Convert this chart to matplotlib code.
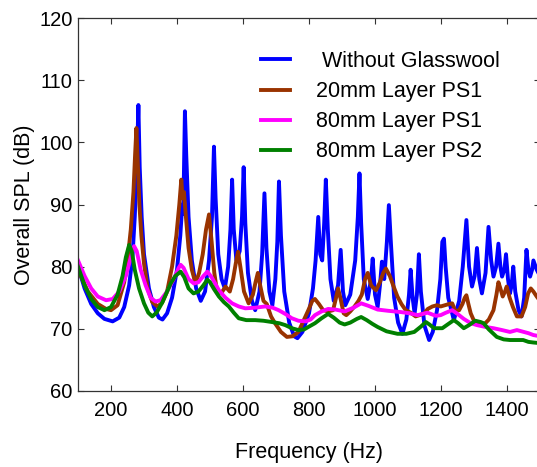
import numpy as np
import matplotlib.pyplot as plt

plt.rcParams['font.family'] = ['Liberation Sans', 'DejaVu Sans']

# (frecuencia Hz, SPL dB)
sin_lana = [(100, 80.0), (120, 76.5), (140, 74.0), (160, 72.5), (180, 71.6), (205, 71.2),
            (225, 71.8), (240, 73.5), (255, 77.0), (265, 81.5), (272, 88.0), (278, 96.0),
            (283, 106.0), (287, 96.0), (293, 88.0), (300, 82.0), (315, 76.5), (330, 73.5),
            (345, 71.8), (356, 71.5), (370, 72.5), (385, 75.0), (400, 79.5), (410, 85.0),
            (416, 90.0), (419, 88.5), (424, 105.0), (428, 98.0), (435, 88.0), (445, 81.0),
            (458, 76.5), (472, 74.5), (485, 76.0), (497, 81.0), (506, 88.0), (512, 99.3),
            (517, 91.0), (525, 82.0), (535, 78.0), (545, 76.5), (555, 80.0), (562, 86.0),
            (567, 94.0), (572, 86.0), (580, 81.0), (590, 82.5), (597, 88.0), (602, 96.0),
            (607, 87.0), (615, 79.0), (627, 74.5), (637, 73.0), (650, 76.0), (658, 82.0),
            (665, 91.8), (671, 83.0), (680, 76.0), (689, 73.8), (698, 78.0), (704, 84.0),
            (709, 93.7), (715, 85.0), (725, 76.0), (740, 71.0), (755, 68.8), (765, 68.5),
            (780, 69.5), (800, 72.5), (812, 76.5), (820, 81.0), (828, 88.0), (834, 82.0),
            (840, 81.0), (846, 87.0), (851, 94.0), (857, 86.0), (865, 78.0), (875, 74.5),
            (888, 77.0), (896, 82.7), (903, 76.0), (910, 73.8), (925, 75.5), (940, 81.0),
            (948, 88.0), (953, 95.0), (958, 87.0), (966, 78.0), (978, 74.8), (988, 78.0),
            (993, 81.3), (1000, 75.5), (1008, 73.5), (1015, 77.0), (1021, 80.8), (1028, 78.0),
            (1036, 84.0), (1042, 89.9), (1048, 84.0), (1058, 75.0), (1070, 71.0), (1083, 69.2),
            (1095, 71.5), (1103, 75.5), (1108, 79.5), (1114, 75.0), (1120, 72.5), (1127, 75.5),
            (1133, 82.0), (1139, 76.0), (1150, 70.5), (1164, 68.2), (1175, 69.5), (1188, 73.0),
            (1198, 78.0), (1204, 84.0), (1209, 84.5), (1214, 80.0), (1222, 75.0), (1239, 71.4),
            (1255, 74.5), (1266, 80.0), (1277, 87.5), (1285, 80.0), (1294, 76.8), (1302, 78.5),
            (1309, 83.0), (1316, 78.0), (1324, 75.7), (1335, 79.0), (1344, 86.4), (1352, 81.0),
            (1359, 78.4), (1367, 80.0), (1374, 83.7), (1380, 80.0), (1385, 78.4), (1392, 79.5),
            (1397, 82.0), (1403, 78.0), (1409, 75.7), (1414, 77.0), (1419, 80.0), (1425, 76.0),
            (1435, 73.0), (1444, 72.0), (1452, 75.0), (1459, 82.7), (1465, 79.5), (1470, 78.4),
            (1476, 79.5), (1480, 81.0), (1490, 79.5), (1500, 78.5)]

capa20_ps1 = [(100, 79.5), (130, 76.0), (160, 74.0), (185, 73.2), (200, 73.0), (220, 73.8),
              (240, 77.5), (250, 81.0), (260, 86.0), (268, 92.0), (273, 98.0), (277, 102.3),
              (281, 97.0), (286, 90.0), (292, 85.0), (300, 80.5), (311, 76.5), (325, 74.3),
              (341, 73.6), (355, 74.2), (370, 76.0), (385, 80.0), (398, 85.0), (407, 90.0),
              (413, 94.0), (417, 91.0), (421, 92.0), (427, 88.0), (435, 83.0), (445, 79.5),
              (456, 77.3), (467, 79.0), (478, 82.0), (488, 86.0), (497, 88.4), (505, 84.0),
              (513, 79.0), (522, 75.8), (535, 75.8), (547, 76.8), (560, 76.0), (570, 78.0),
              (578, 80.5), (585, 82.4), (592, 80.0), (603, 76.0), (617, 74.1), (630, 75.5),
              (638, 77.5), (645, 79.0), (652, 77.0), (662, 74.5), (672, 74.0), (685, 72.0),
              (697, 70.9), (715, 69.5), (733, 68.7), (750, 68.8), (768, 69.5), (785, 71.5),
              (798, 73.0), (810, 74.5), (818, 74.8), (830, 74.0), (843, 73.0), (858, 72.8),
              (873, 73.0), (882, 75.0), (888, 76.5), (895, 75.0), (905, 72.5), (913, 72.2),
              (925, 72.8), (938, 73.6), (950, 74.5), (960, 75.5), (970, 78.0), (978, 79.0),
              (988, 77.0), (1003, 76.2), (1015, 77.5), (1025, 79.0), (1033, 79.7), (1045, 78.5),
              (1055, 77.0), (1068, 75.2), (1080, 74.0), (1093, 73.0), (1108, 72.6), (1123, 72.0),
              (1135, 72.2), (1149, 72.5), (1160, 73.2), (1174, 73.6), (1188, 73.8), (1199, 73.6),
              (1212, 73.8), (1225, 74.0), (1234, 74.1), (1244, 72.8), (1255, 73.0), (1265, 74.0),
              (1272, 75.0), (1277, 75.4), (1283, 74.0), (1290, 72.5), (1299, 71.4), (1315, 70.8),
              (1329, 70.6), (1345, 71.5), (1359, 73.0), (1368, 75.5), (1374, 77.5), (1380, 76.5),
              (1387, 75.2), (1394, 76.0), (1399, 76.8), (1408, 75.0), (1418, 73.5), (1430, 72.0),
              (1444, 72.0), (1455, 73.5), (1464, 75.7), (1472, 76.5), (1480, 76.0), (1490, 75.2),
              (1500, 74.5)]

capa80_ps1 = [(100, 81.0), (120, 78.5), (140, 76.5), (160, 75.2), (185, 74.6), (205, 74.8),
              (225, 76.0), (245, 78.5), (260, 81.5), (270, 83.3), (278, 82.5), (290, 79.5),
              (305, 77.0), (320, 75.0), (335, 74.4), (350, 74.6), (370, 76.0), (390, 78.0),
              (405, 79.8), (411, 80.3), (420, 79.8), (435, 78.0), (451, 77.3), (465, 77.5),
              (480, 78.5), (492, 79.2), (505, 78.3), (527, 76.2), (547, 75.0), (567, 74.1),
              (587, 73.6), (607, 73.3), (637, 73.4), (667, 73.6), (690, 73.4), (708, 73.0),
              (728, 72.4), (748, 71.7), (768, 71.3), (790, 71.2), (805, 71.5), (818, 72.2),
              (838, 72.8), (858, 73.2), (880, 73.1), (908, 72.8), (935, 73.4), (958, 74.1),
              (980, 73.7), (1008, 73.1), (1040, 72.9), (1078, 72.7), (1105, 72.5), (1129, 72.2),
              (1159, 72.6), (1184, 72.1), (1199, 72.2), (1215, 72.6), (1234, 73.0), (1250, 72.4),
              (1269, 71.6), (1290, 70.9), (1309, 70.6), (1335, 70.3), (1359, 70.1), (1385, 69.8),
              (1409, 69.5), (1430, 69.8), (1444, 69.6), (1465, 69.3), (1480, 69.0), (1500, 68.8)]

capa80_ps2 = [(100, 80.0), (120, 77.0), (140, 74.8), (160, 73.5), (180, 73.0), (200, 73.5),
              (220, 75.5), (235, 78.5), (245, 81.5), (255, 83.5), (263, 82.5), (272, 79.5),
              (285, 76.5), (300, 74.1), (313, 72.6), (325, 72.0), (338, 72.6), (355, 74.2),
              (370, 76.0), (381, 77.3), (395, 78.5), (411, 79.2), (422, 78.3), (435, 76.5),
              (450, 75.7), (465, 76.0), (480, 77.0), (492, 77.9), (500, 77.5), (512, 76.4),
              (527, 75.2), (542, 74.3), (557, 73.6), (572, 72.6), (587, 71.7), (610, 71.4),
              (637, 71.4), (662, 71.3), (687, 71.1), (710, 70.9), (728, 70.6), (748, 70.1),
              (768, 69.8), (785, 69.9), (798, 70.3), (818, 70.9), (838, 71.7), (858, 72.4),
              (875, 71.8), (893, 71.0), (908, 70.7), (925, 71.0), (945, 71.6), (958, 71.9),
              (975, 71.4), (992, 70.8), (1008, 70.3), (1035, 69.6), (1068, 69.2), (1095, 69.2),
              (1119, 69.5), (1140, 70.4), (1154, 71.1), (1165, 70.7), (1179, 70.1), (1204, 70.1),
              (1220, 70.7), (1239, 71.4), (1252, 70.9), (1269, 70.1), (1285, 70.6), (1304, 71.3),
              (1320, 71.1), (1329, 70.9), (1345, 69.9), (1369, 68.7), (1390, 68.3), (1409, 68.2),
              (1430, 68.2), (1449, 68.2), (1465, 67.9), (1480, 67.8), (1500, 67.7)]

etiquetas = [' Without Glasswool', '20mm Layer PS1', '80mm Layer PS1', '80mm Layer PS2']
colores = ['#0000ff', '#993300', '#ff00ff', '#008000']
series = [sin_lana, capa20_ps1, capa80_ps1, capa80_ps2]

fig = plt.figure(figsize=(5.37, 4.67), dpi=100)
ax = fig.add_axes([78/537, 1-391/467, 462/537, 373/467])

for datos, col, lab in zip(series, colores, etiquetas):
    f, spl = np.array(datos).T
    ax.plot(f, spl, color=col, lw=2.8, label=lab)

ax.set_xlim(100, 1500)
ax.set_ylim(60, 120)
ax.set_xticks(np.arange(200, 1401, 200))
ax.set_yticks(np.arange(60, 121, 10))
ax.tick_params(direction='in', top=True, right=True, length=4, width=0.8,
               labelsize=14.5, color='#333333')
ax.tick_params(axis='x', pad=7)
ax.tick_params(axis='y', pad=4)
for s in ax.spines.values():
    s.set_color('#333333')
    s.set_linewidth(0.9)

ax.set_xlabel('Frequency (Hz)', fontsize=15.5, labelpad=16)
ax.set_ylabel('Overall SPL (dB)', fontsize=15.5, labelpad=3)

ax.legend(loc='upper left', bbox_to_anchor=(261/537, 1-51/467), bbox_transform=fig.transFigure,
          frameon=False, fontsize=15.5, handlelength=1.35, handletextpad=1.2,
          labelspacing=0.42, borderpad=0, borderaxespad=0)

plt.savefig('out.png', dpi=100)
